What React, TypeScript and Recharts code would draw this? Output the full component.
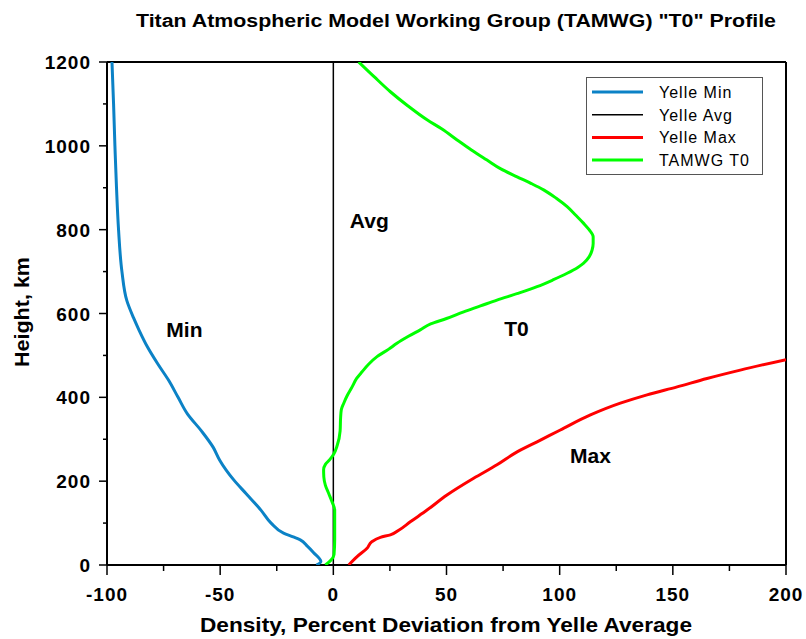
import { ScatterChart, Scatter, XAxis, YAxis, ReferenceLine, ReferenceDot, Legend } from "recharts";

// [height km, percent deviation]
const yelleMin: [number, number][] = [
  [0, -7.5], [8, -5.5], [30, -8.8], [45, -11.5], [60, -14.6], [67, -17.7], [76, -22],
  [100, -27.5], [131, -32], [170, -38.5], [203, -44], [250, -50.2], [280, -53],
  [320, -58.3], [360, -64.4], [400, -68.6], [440, -72.7], [480, -77.6], [520, -82.1],
  [560, -85.8], [590, -88.3], [630, -91.2], [700, -93.4], [800, -94.9], [900, -95.8],
  [1000, -96.5], [1100, -97.1], [1200, -97.8],
];

const yelleAvg: [number, number][] = [[0, 0], [1200, 0]];

const yelleMax: [number, number][] = [
  [0, 6.8], [20, 10.5], [40, 14.9], [56, 17.1], [66, 20.8], [72, 25.2], [83, 28.9],
  [103, 34], [131, 41.4], [167, 50.2], [207, 62], [239, 72.3], [270, 81.2], [298, 91.5],
  [322, 100.3], [358, 113.6], [386, 126.8], [406, 138.6], [425, 151.9], [445, 165.1],
  [465, 179.8], [490, 200],
];

const tamwgT0: [number, number][] = [
  [0, -3.5], [12, -1], [25, 0.3], [60, 0.6], [100, 0.6], [131, 0.6], [150, -0.5],
  [170, -2], [190, -3.5], [210, -4.2], [227, -4.3], [240, -3.5], [252, -1.5], [265, 0.2],
  [285, 1.7], [320, 3], [350, 3.2], [370, 3.5], [386, 4.6], [405, 6.2], [425, 8.3],
  [445, 10.3], [461, 12.7], [480, 15.8], [497, 19.3], [515, 24.5], [529, 28.1], [545, 33],
  [561, 38.4], [575, 43], [588, 50], [604, 57.6], [618, 65], [632, 72.3], [648, 81.5],
  [664, 90], [680, 97], [696, 103.3], [710, 108], [720, 110.6], [735, 113], [751, 114.3],
  [767, 114.8], [783, 114.8], [800, 113], [815, 110.6], [835, 107], [855, 103.3],
  [875, 98.5], [895, 92.9], [910, 87.5], [926, 81.2], [945, 74], [966, 67.9], [990, 61],
  [1014, 54.7], [1040, 48], [1062, 41.4], [1095, 33], [1129, 25.2], [1165, 18], [1200, 11.2],
];

const xTicks = [-100, -75, -50, -25, 0, 25, 50, 75, 100, 125, 150, 175, 200];
const yTicks = [0, 100, 200, 300, 400, 500, 600, 700, 800, 900, 1000, 1100, 1200];

const annotations = [
  { text: "Min", x: -65.8, h: 562 },
  { text: "Avg", x: 15.9, h: 822 },
  { text: "T0", x: 80.9, h: 564 },
  { text: "Max", x: 113.6, h: 262 },
];

const series = [
  { name: "Yelle Min", data: yelleMin, color: "#0b82c6", width: 3 },
  { name: "Yelle Avg", data: yelleAvg, color: "#000000", width: 1.5 },
  { name: "Yelle Max", data: yelleMax, color: "#ff0000", width: 3 },
  { name: "TAMWG T0", data: tamwgT0, color: "#00ff00", width: 3 },
];

const FONT = '"Liberation Sans", Arial, sans-serif';

const toPoints = (d: [number, number][]) => d.map(([h, x]) => ({ h, x }));

const XTick = (props: any) => {
  const { x, y, payload } = props;
  const major = payload.value % 50 === 0;
  return (
    <g>
      <line x1={x} x2={x} y1={y} y2={y + (major ? 10 : 6)} stroke="#000" strokeWidth={1.5} />
      {major && (
        <text x={x} y={y + 36} textAnchor="middle" fontFamily={FONT} fontWeight="bold" fontSize={19} letterSpacing={1} fill="#000">
          {payload.value}
        </text>
      )}
    </g>
  );
};

const YTick = (props: any) => {
  const { x, y, payload } = props;
  const major = payload.value % 200 === 0;
  return (
    <g>
      <line x1={x} x2={x - (major ? 8 : 4)} y1={y} y2={y} stroke="#000" strokeWidth={1.5} />
      {major && (
        <text x={x - 16} y={y + 7} textAnchor="end" fontFamily={FONT} fontWeight="bold" fontSize={19} letterSpacing={1} fill="#000">
          {payload.value}
        </text>
      )}
    </g>
  );
};

const LegendBox = () => (
  <svg width={177} height={98} style={{ display: "block" }}>
    <rect x={0.5} y={0.5} width={176} height={97} fill="#fff" stroke="#555" strokeWidth={1} />
    {series.map((s, i) => {
      const cy = 15 + i * 22.7;
      return (
        <g key={s.name}>
          <line x1={6} x2={57} y1={cy} y2={cy} stroke={s.color} strokeWidth={s.width} />
          <text x={73} y={cy + 6} fontFamily={FONT} fontSize={16} letterSpacing={1} fill="#000">
            {s.name}
          </text>
        </g>
      );
    })}
  </svg>
);

export default function App() {
  return (
    <div style={{ position: "absolute", left: 0, top: 0, width: 806, height: 639, background: "#fff" }}>
      <ScatterChart width={806} height={639} margin={{ top: 62, right: 20, bottom: 44, left: 47 }}>
        <XAxis
          type="number"
          dataKey="x"
          domain={[-100, 200]}
          ticks={xTicks}
          allowDataOverflow
          height={30}
          tickSize={0}
          tickMargin={0}
          tickLine={false}
          axisLine={{ stroke: "#000", strokeWidth: 2 }}
          tick={(p: any) => <XTick {...p} />}
          interval={0}
        />
        <YAxis
          type="number"
          dataKey="h"
          domain={[0, 1200]}
          ticks={yTicks}
          allowDataOverflow
          width={60}
          tickSize={0}
          tickMargin={0}
          tickLine={false}
          axisLine={{ stroke: "#000", strokeWidth: 2 }}
          tick={(p: any) => <YTick {...p} />}
          interval={0}
        />
        <ReferenceLine y={1200} stroke="#000" strokeWidth={2} />
        <ReferenceLine x={200} stroke="#000" strokeWidth={2} />
        {series.map((s) => (
          <Scatter
            key={s.name}
            name={s.name}
            data={toPoints(s.data)}
            fill={s.color}
            line={{ stroke: s.color, strokeWidth: s.width }}
            lineType="joint"
            lineJointType="monotoneY"
            shape={() => <g />}
            isAnimationActive={false}
          />
        ))}
        {annotations.map((a) => (
          <ReferenceDot
            key={a.text}
            x={a.x}
            y={a.h}
            r={0}
            shape={(p: any) => (
              <text x={p.cx} y={p.cy + 7.5} textAnchor="middle" fontFamily={FONT} fontWeight="bold" fontSize={21} fill="#000">
                {a.text}
              </text>
            )}
          />
        ))}
        <Legend
          layout="horizontal"
          verticalAlign="middle"
          align="center"
          content={() => <LegendBox />}
          wrapperStyle={{ position: "absolute", left: 586, top: 77, width: 177, height: 98 }}
        />
      </ScatterChart>
      <svg width={806} height={639} style={{ position: "absolute", left: 0, top: 0, pointerEvents: "none" }}>
        <text x={456} y={27} textAnchor="middle" fontFamily={FONT} fontWeight="bold" fontSize={18} textLength={640} lengthAdjust="spacingAndGlyphs" fill="#000">
          Titan Atmospheric Model Working Group (TAMWG) "T0" Profile
        </text>
        <text x={446} y={632} textAnchor="middle" fontFamily={FONT} fontWeight="bold" fontSize={21} textLength={492} lengthAdjust="spacingAndGlyphs" fill="#000">
          Density, Percent Deviation from Yelle Average
        </text>
        <text x={29} y={312} transform="rotate(-90 29 312)" textAnchor="middle" fontFamily={FONT} fontWeight="bold" fontSize={20} textLength={110} lengthAdjust="spacingAndGlyphs" fill="#000">
          Height, km
        </text>
      </svg>
    </div>
  );
}
